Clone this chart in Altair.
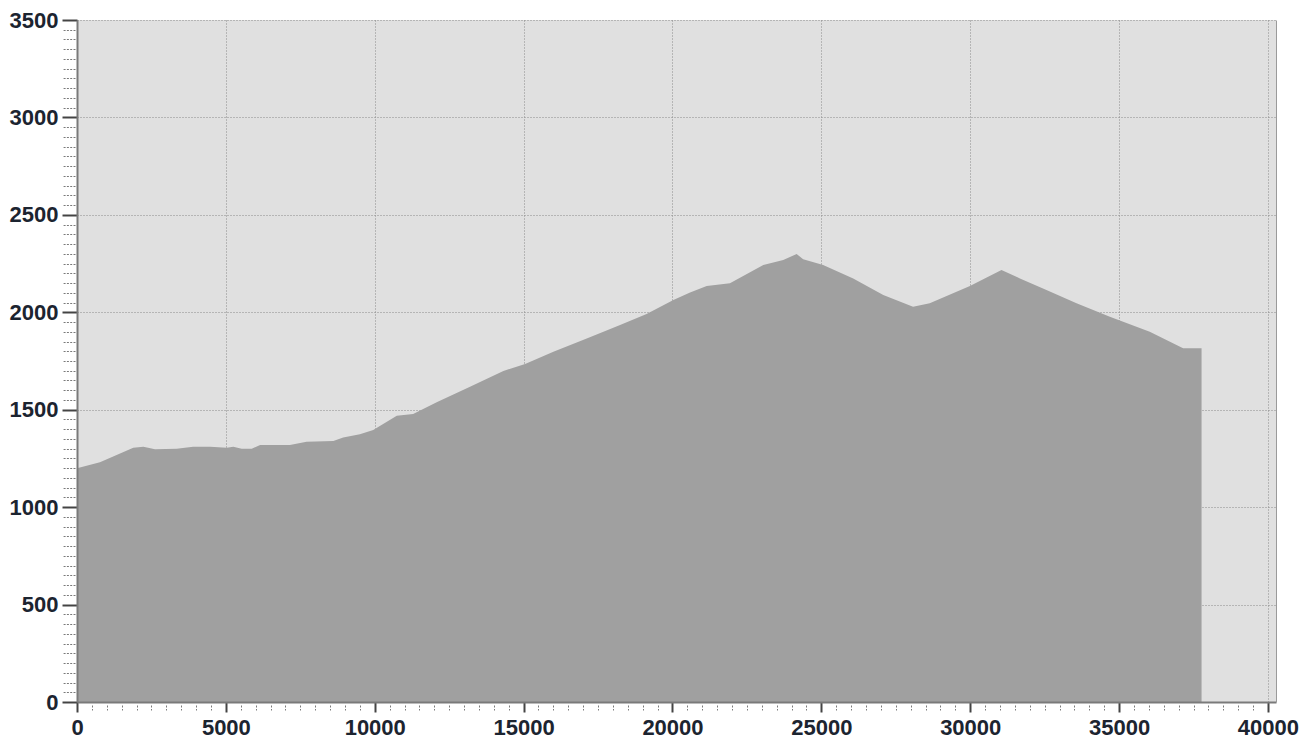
import altair as alt
import pandas as pd

dist = [0, 770, 1890, 2230, 2620, 3350, 3900, 4470, 5030, 5250, 5530, 5870,
        6150, 7150, 7710, 8610, 8940, 9500, 9950, 10740, 11290, 12080, 13200,
        14320, 15050, 16000, 17120, 18240, 19130, 20030, 20590, 21150, 21930,
        23050, 23720, 24170, 24390, 25060, 26070, 27080, 28080, 28640, 29990,
        31050, 31670, 32560, 33570, 34690, 36030, 37150, 37770]
elev = [1200, 1230, 1305, 1310, 1297, 1300, 1310, 1310, 1305, 1310, 1300, 1300,
        1319, 1319, 1336, 1339, 1357, 1374, 1396, 1469, 1478, 1538, 1618,
        1699, 1735, 1798, 1866, 1935, 1991, 2063, 2101, 2135, 2149,
        2243, 2268, 2299, 2272, 2243, 2174, 2089, 2029, 2046, 2135,
        2217, 2174, 2114, 2046, 1977, 1900, 1815, 1815]

x_major = [0, 5000, 10000, 15000, 20000, 25000, 30000, 35000, 40000]
y_major = [0, 500, 1000, 1500, 2000, 2500, 3000, 3500]
x_minor = [v for v in range(0, 40001, 500) if v % 5000 != 0]
y_minor = [v for v in range(0, 3501, 50) if v % 500 != 0]

df = pd.DataFrame({"dist": dist, "elev": elev})

xs = alt.Scale(domain=[0, 40270], nice=False, zero=False)
ys = alt.Scale(domain=[0, 3500], nice=False, zero=False)

FONT = "Liberation Sans"
FSIZE = 22
LABEL_COLOR = "#1c2430"

base = alt.Chart(df)

# area with grid-only axes drawn behind
area = base.mark_area(color="#a0a0a0", opacity=1, interpolate="linear").encode(
    x=alt.X("dist:Q", scale=xs, axis=alt.Axis(
        orient="bottom", values=x_major, grid=True, gridColor="#8a8a8a",
        gridDash=[1, 2], gridWidth=1, domain=False, ticks=False, labels=False,
        title=None, zindex=0)),
    y=alt.Y("elev:Q", scale=ys, axis=alt.Axis(
        orient="left", values=y_major, grid=True, gridColor="#8a8a8a",
        gridDash=[1, 2], gridWidth=1, domain=False, ticks=False, labels=False,
        title=None, zindex=0)),
)

# minor ticks
minor = base.mark_point(opacity=0).encode(
    x=alt.X("dist:Q", scale=xs, axis=alt.Axis(
        orient="bottom", values=x_minor, grid=False, domain=False, ticks=True,
        tickSize=5, tickDash=[2, 1.5], tickColor="#7a7a7a", tickWidth=1,
        offset=3, labels=False, title=None, zindex=1)),
    y=alt.Y("elev:Q", scale=ys, axis=alt.Axis(
        orient="left", values=y_minor, grid=False, domain=False, ticks=True,
        tickSize=13, tickDash=[2, 1.3], tickColor="#7a7a7a", tickWidth=1,
        offset=2, labels=False, title=None, zindex=1)),
)

# major ticks, labels and domain lines
major = base.mark_point(opacity=0).encode(
    x=alt.X("dist:Q", scale=xs, axis=alt.Axis(
        orient="bottom", values=x_major, grid=False, domain=True,
        domainColor="#7a7a7a", domainWidth=2, ticks=True, tickSize=10,
        tickWidth=2, tickColor="#444444", labels=True, labelFont=FONT,
        labelFontSize=FSIZE, labelFontWeight="bold", labelColor=LABEL_COLOR,
        labelPadding=5, labelFlush=False, labelOverlap=False, format="d",
        title=None, zindex=1)),
    y=alt.Y("elev:Q", scale=ys, axis=alt.Axis(
        orient="left", values=y_major, grid=False, domain=True,
        domainColor="#7a7a7a", domainWidth=2, ticks=True, tickSize=15,
        tickWidth=2, tickColor="#444444", labels=True, labelFont=FONT,
        labelFontSize=FSIZE, labelFontWeight="bold", labelColor=LABEL_COLOR,
        labelPadding=4, labelFlush=False, labelOverlap=False, format="d",
        title=None, zindex=1)),
)

# right-hand border of the plot
border = base.mark_point(opacity=0).encode(
    x=alt.X("dist:Q", scale=xs, axis=None),
    y=alt.Y("elev:Q", scale=ys, axis=alt.Axis(
        orient="right", values=y_major, grid=False, domain=True,
        domainColor="#9a9a9a", domainWidth=1, ticks=False, labels=False,
        title=None, zindex=1)),
)

chart = alt.layer(area, minor, major, border).resolve_axis(
    x="independent", y="independent"
).properties(
    width=1199,
    height=682,
    autosize=alt.AutoSizeParams(type="none"),
    padding={"left": 69, "top": 12, "right": 29, "bottom": 38},
    background="white",
).configure_view(
    fill="#e0e0e0",
    stroke=None,
)

chart.save("out.html", embed_options={"renderer": "svg", "actions": False})
